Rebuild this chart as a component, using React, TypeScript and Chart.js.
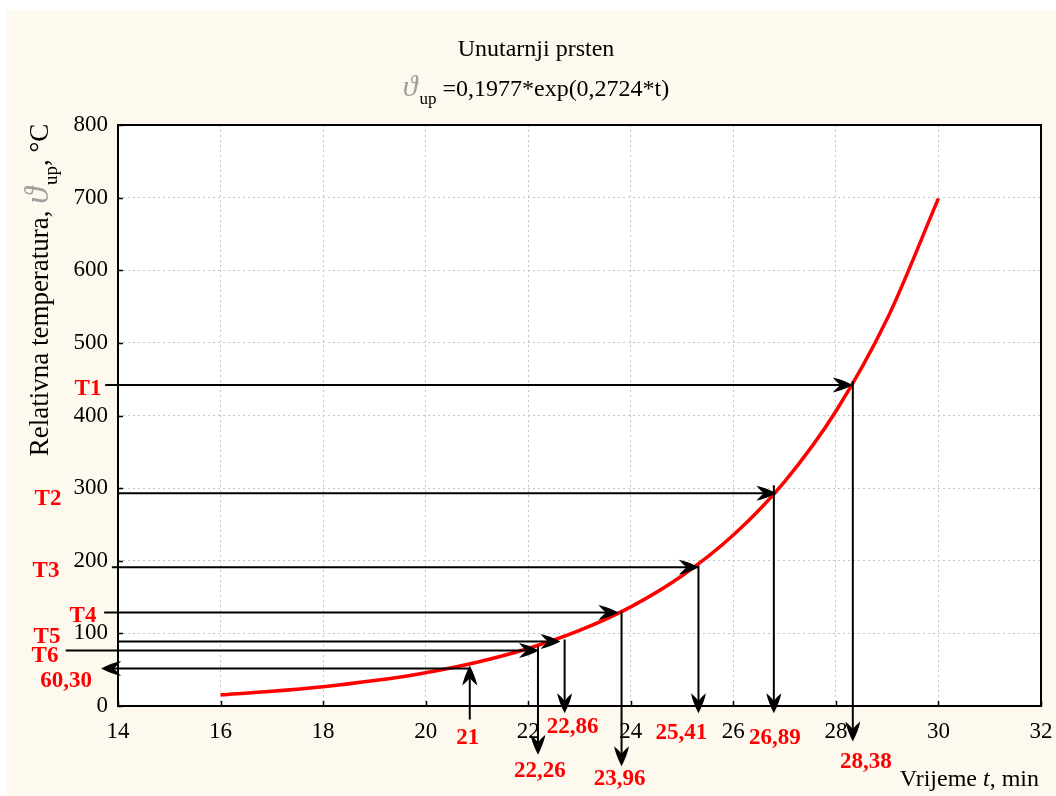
import React, { useEffect, useRef } from 'react';
import { Chart, registerables } from 'chart.js';

Chart.register(...registerables);

// ---- data ----
const timeValues = [16, 17, 18, 19, 20, 21, 22, 23, 24, 25, 26, 27, 28, 29, 30];
const tempValues = [15.4, 20.3, 26.6, 35.0, 45.9, 60.3, 79.2, 104.0, 136.5, 179.3, 235.4, 309.1, 405.9, 533.1, 699.0];

const xTickValues = [14, 16, 18, 20, 22, 24, 26, 28, 30, 32];
const yTickValues = [0, 100, 200, 300, 400, 500, 600, 700, 800];

// horizontal reading lines (T1..T6)
const levelNames = ['T1', 'T2', 'T3', 'T4', 'T5', 'T6'];
const levelTemps = [442, 293, 191, 128.6, 88.7, 76.4];
const levelStart = [13.75, 14.0, 13.88, 13.73, 14.02, 12.98];
const levelHit = [28.33, 26.84, 25.33, 23.76, 22.63, 22.21];

// vertical drop lines to the time axis
const dropNames = ['28,38', '26,89', '25,41', '23,96', '22,86', '22,26'];
const dropTimes = [28.33, 26.79, 25.32, 23.82, 22.71, 22.19];
const dropTop = [447, 304, 193, 130, 91.5, 82];
const dropEnd = [-49, -10, -10, -83, -10, -67];

// reference reading: t = 21 -> 60,30
const refTimeName = '21';
const refTempName = '60,30';
const refTime = 20.86;
const refTemp = 51.6;
const refBottom = -18.6;
const refTip = 55.7;
const refLeft = 13.67;

// label layout (pixel offsets)
const levelLabelDx = [-30, -70, -72, -35, -71, -73];
const levelLabelDy = [4, 6, 4, 3, -5, 6];
const dropLabelDx = [13, 1, -17, -2, 8, 2];
const dropLabelDy = [56, 32, 27, 73, 21, 65];

const SERIF = "'Liberation Serif', 'Times New Roman', serif";
const TICK_SIZE = 23;
const RED_SIZE = 23;
const TITLE_SIZE = 24;
const YTITLE_SIZE = 27;
const XTITLE_SIZE = 24;

function drawArrowHead(ctx: CanvasRenderingContext2D, x: number, y: number, dx: number, dy: number) {
  const L = 20, W = 7.5, N = 8;
  const nx = -dy, ny = dx;
  const bx = x - L * dx, by = y - L * dy;
  const lx = bx + W * nx, ly = by + W * ny;
  const rx = bx - W * nx, ry = by - W * ny;
  const mx = x - (L - N) * dx, my = y - (L - N) * dy;
  ctx.beginPath();
  ctx.moveTo(x, y);
  // slightly convex outer sides
  ctx.quadraticCurveTo(x - L * 0.55 * dx + W * 0.75 * nx, y - L * 0.55 * dy + W * 0.75 * ny, lx, ly);
  ctx.quadraticCurveTo(mx - 3 * dx + 1.5 * nx, my - 3 * dy + 1.5 * ny, mx, my);
  ctx.quadraticCurveTo(mx - 3 * dx - 1.5 * nx, my - 3 * dy - 1.5 * ny, rx, ry);
  ctx.quadraticCurveTo(x - L * 0.55 * dx - W * 0.75 * nx, y - L * 0.55 * dy - W * 0.75 * ny, x, y);
  ctx.closePath();
  ctx.fillStyle = '#000';
  ctx.fill();
}

const decorPlugin = {
  id: 'decor',
  beforeDraw(chart: any) {
    const { ctx, chartArea: a, width, height } = chart;
    ctx.save();
    ctx.fillStyle = '#ffffff';
    ctx.fillRect(0, 0, width, height);
    ctx.fillStyle = '#fdf9ee';
    ctx.fillRect(7, 10, width - 7, height - 10);
    ctx.fillStyle = '#ffffff';
    ctx.fillRect(a.left, a.top, a.right - a.left, a.bottom - a.top);
    ctx.restore();
  },
  afterDraw(chart: any) {
    const { ctx, chartArea: a } = chart;
    const xs = chart.scales.x;
    const ys = chart.scales.y;
    ctx.save();
    // plot box
    ctx.strokeStyle = '#000';
    ctx.lineWidth = 2;
    ctx.strokeRect(a.left, a.top, a.right - a.left, a.bottom - a.top);
    // inward tick marks
    ctx.lineWidth = 1.5;
    ctx.beginPath();
    xTickValues.forEach((v) => {
      const px = Math.round(xs.getPixelForValue(v)) + 0.5;
      ctx.moveTo(px, a.bottom);
      ctx.lineTo(px, a.bottom - 5);
    });
    yTickValues.forEach((v) => {
      const py = Math.round(ys.getPixelForValue(v)) + 0.5;
      ctx.moveTo(a.left, py);
      ctx.lineTo(a.left + 5, py);
    });
    ctx.stroke();

    // arrow heads
    levelTemps.forEach((t, i) => {
      drawArrowHead(ctx, xs.getPixelForValue(levelHit[i]), ys.getPixelForValue(t), 1, 0);
      drawArrowHead(ctx, xs.getPixelForValue(dropTimes[i]), ys.getPixelForValue(dropEnd[i]), 0, 1);
    });
    drawArrowHead(ctx, xs.getPixelForValue(refLeft), ys.getPixelForValue(refTemp), -1, 0);
    drawArrowHead(ctx, xs.getPixelForValue(refTime), ys.getPixelForValue(refTip), 0, -1);

    // red labels
    ctx.fillStyle = '#ff0000';
    ctx.font = `bold ${RED_SIZE}px ${SERIF}`;
    ctx.textAlign = 'center';
    ctx.textBaseline = 'middle';
    levelNames.forEach((n, i) => {
      ctx.fillText(n, a.left + levelLabelDx[i], ys.getPixelForValue(levelTemps[i]) + levelLabelDy[i]);
    });
    ctx.fillText(refTempName, a.left - 52, ys.getPixelForValue(refTemp) + 13);
    dropNames.forEach((n, i) => {
      ctx.fillText(n, xs.getPixelForValue(dropTimes[i]) + dropLabelDx[i], a.bottom + dropLabelDy[i]);
    });
    ctx.fillText(refTimeName, xs.getPixelForValue(refTime) - 2, a.bottom + 32);

    // theta with subscript "up"
    const thetaWidth = (size: number) => {
      ctx.font = `italic ${Math.round(size * 1.25)}px ${SERIF}`;
      const w1 = ctx.measureText('\u03D1').width;
      ctx.font = `${Math.round(size * 0.72)}px ${SERIF}`;
      const w2 = ctx.measureText('up').width;
      return w1 + 2 + w2;
    };
    const drawTheta = (x: number, base: number, size: number) => {
      ctx.font = `italic ${Math.round(size * 1.25)}px ${SERIF}`;
      ctx.fillStyle = '#a0a0a0';
      ctx.textAlign = 'left';
      ctx.fillText('\u03D1', x, base);
      const w1 = ctx.measureText('\u03D1').width;
      ctx.font = `${Math.round(size * 0.72)}px ${SERIF}`;
      ctx.fillStyle = '#000';
      ctx.fillText('up', x + w1 + 2, base + size * 0.32);
      const w2 = ctx.measureText('up').width;
      return w1 + 2 + w2;
    };

    // titles
    ctx.fillStyle = '#000';
    ctx.font = `${TITLE_SIZE}px ${SERIF}`;
    ctx.textAlign = 'center';
    ctx.textBaseline = 'alphabetic';
    ctx.fillText('Unutarnji prsten', 536, 56);

    {
      const base = 96;
      const rest = ' =0,1977*exp(0,2724*t)';
      const wt = thetaWidth(TITLE_SIZE);
      ctx.font = `${TITLE_SIZE}px ${SERIF}`;
      const wr = ctx.measureText(rest).width;
      const x0 = 536 - (wt + wr) / 2;
      const used = drawTheta(x0, base, TITLE_SIZE);
      ctx.font = `${TITLE_SIZE}px ${SERIF}`;
      ctx.fillStyle = '#000';
      ctx.textAlign = 'left';
      ctx.fillText(rest, x0 + used, base);
    }

    // y axis title (rotated)
    {
      ctx.save();
      ctx.translate(48, 290);
      ctx.rotate(-Math.PI / 2);
      const p1 = 'Relativna temperatura, ';
      const p3 = ', \u00B0C';
      ctx.font = `${YTITLE_SIZE}px ${SERIF}`;
      const w1 = ctx.measureText(p1).width;
      const w3 = ctx.measureText(p3).width;
      const wt = thetaWidth(YTITLE_SIZE);
      let x = -(w1 + wt + w3) / 2;
      ctx.textAlign = 'left';
      ctx.textBaseline = 'alphabetic';
      ctx.font = `${YTITLE_SIZE}px ${SERIF}`;
      ctx.fillStyle = '#000';
      ctx.fillText(p1, x, 0);
      x += w1;
      x += drawTheta(x, 0, YTITLE_SIZE);
      ctx.font = `${YTITLE_SIZE}px ${SERIF}`;
      ctx.fillStyle = '#000';
      ctx.fillText(p3, x, 0);
      ctx.restore();
    }

    // x axis title
    {
      const a1 = 'Vrijeme ';
      const a2 = 't';
      const a3 = ', min';
      ctx.textAlign = 'left';
      ctx.textBaseline = 'alphabetic';
      ctx.font = `${XTITLE_SIZE}px ${SERIF}`;
      const w1 = ctx.measureText(a1).width;
      const w3 = ctx.measureText(a3).width;
      ctx.font = `italic ${XTITLE_SIZE}px ${SERIF}`;
      const w2 = ctx.measureText(a2).width;
      let x = 1039 - (w1 + w2 + w3);
      const base = 786;
      ctx.fillStyle = '#000';
      ctx.font = `${XTITLE_SIZE}px ${SERIF}`;
      ctx.fillText(a1, x, base);
      x += w1;
      ctx.font = `italic ${XTITLE_SIZE}px ${SERIF}`;
      ctx.fillText(a2, x, base);
      x += w2;
      ctx.font = `${XTITLE_SIZE}px ${SERIF}`;
      ctx.fillText(a3, x, base);
    }
    ctx.restore();
  },
};

export default function App() {
  const canvasRef = useRef<HTMLCanvasElement | null>(null);

  useEffect(() => {
    const canvas = canvasRef.current;
    if (!canvas) return;

    const lineStyle = {
      type: 'line' as const,
      borderColor: '#000000',
      borderWidth: 2,
      pointRadius: 0,
      pointHoverRadius: 0,
      tension: 0,
      clip: false as any,
      fill: false,
    };

    const datasets: any[] = [
      {
        type: 'line',
        label: 'curve',
        data: timeValues.map((t, i) => ({ x: t, y: tempValues[i] })),
        borderColor: '#ff0000',
        borderWidth: 3.5,
        pointRadius: 0,
        cubicInterpolationMode: 'monotone',
        fill: false,
        order: 2,
      },
    ];
    levelTemps.forEach((t, i) => {
      datasets.push({
        ...lineStyle,
        label: levelNames[i],
        data: [{ x: levelStart[i], y: t }, { x: levelHit[i] - 0.2, y: t }],
        order: 1,
      });
      datasets.push({
        ...lineStyle,
        label: dropNames[i],
        data: [{ x: dropTimes[i], y: dropTop[i] }, { x: dropTimes[i], y: dropEnd[i] + 8 }],
        order: 1,
      });
    });
    datasets.push({
      ...lineStyle,
      label: refTempName,
      data: [{ x: refTime, y: refTemp }, { x: refLeft + 0.2, y: refTemp }],
      order: 1,
    });
    datasets.push({
      ...lineStyle,
      label: refTimeName,
      data: [{ x: refTime, y: refBottom }, { x: refTime, y: refTip - 10 }],
      order: 1,
    });

    const tickFont = { family: SERIF, size: TICK_SIZE };

    const chart = new Chart(canvas, {
      type: 'line',
      data: { datasets },
      options: {
        animation: false,
        responsive: false,
        events: [],
        layout: { padding: { left: 0, right: 15, top: 125, bottom: 0 } },
        plugins: {
          legend: { display: false },
          tooltip: { enabled: false },
          title: { display: false },
        },
        scales: {
          x: {
            type: 'linear',
            min: 14,
            max: 32,
            afterBuildTicks: (s: any) => {
              s.ticks = xTickValues.map((v) => ({ value: v }));
            },
            afterFit: (s: any) => {
              s.height = 90;
              s.paddingLeft = 0;
              s.paddingRight = 0;
            },
            ticks: { font: tickFont, color: '#000', padding: 12, autoSkip: false, maxRotation: 0 },
            grid: { color: '#c4c4c4', lineWidth: 1, drawTicks: false },
            border: { display: false, dash: [2, 3] },
          },
          y: {
            type: 'linear',
            min: 0,
            max: 800,
            afterBuildTicks: (s: any) => {
              s.ticks = yTickValues.map((v) => ({ value: v }));
            },
            afterFit: (s: any) => {
              s.width = 118;
              s.paddingTop = 0;
              s.paddingBottom = 0;
            },
            ticks: { font: tickFont, color: '#000', padding: 10, autoSkip: false },
            grid: { color: '#c4c4c4', lineWidth: 1, drawTicks: false },
            border: { display: false, dash: [2, 3] },
          },
        },
      },
      plugins: [decorPlugin],
    });

    return () => chart.destroy();
  }, []);

  return (
    <div style={{ position: 'absolute', left: 0, top: 0, width: 1056, height: 796 }}>
      <canvas ref={canvasRef} width={1056} height={796} style={{ display: 'block' }} />
    </div>
  );
}
